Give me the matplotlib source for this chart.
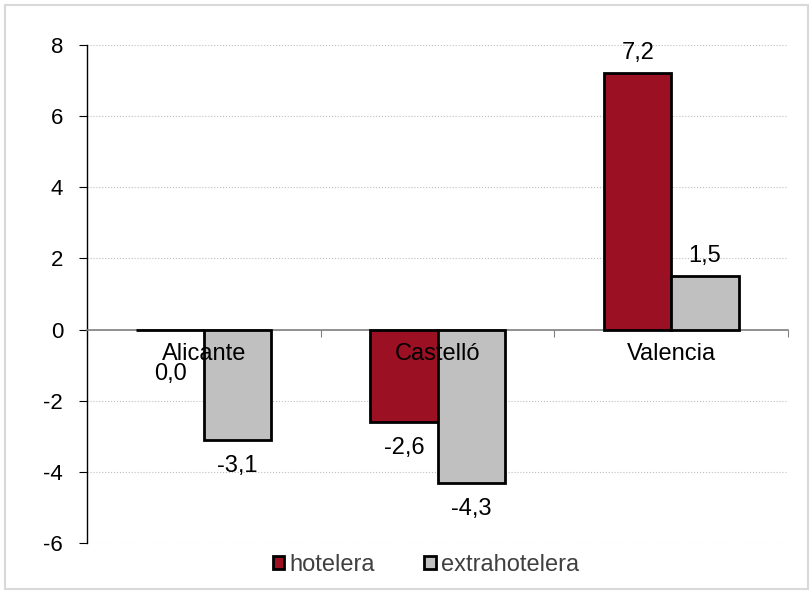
import matplotlib.pyplot as plt
import numpy as np
from matplotlib.patches import Rectangle

# datos
provincias = ['Alicante', 'Castelló', 'Valencia']
hotelera = [0.0, -2.6, 7.2]
extrahotelera = [-3.1, -4.3, 1.5]
series = ['hotelera', 'extrahotelera']
colores = ['#9B1023', '#C0C0C0']

plt.rcParams['font.family'] = ['Liberation Sans', 'DejaVu Sans']
fs = 17

fig = plt.figure(figsize=(8.11, 5.93), dpi=100)
fig.patches.append(Rectangle((0.006, 0.006), 0.99, 0.986, transform=fig.transFigure,
                             fill=False, edgecolor='#D9D9D9', linewidth=1.5))
ax = fig.add_axes([0.107, 0.0843, 0.865, 0.8398])

x = np.arange(len(provincias))
w = 0.288
b1 = ax.bar(x - w/2, hotelera, w, color=colores[0], edgecolor='black', linewidth=2,
            label=series[0], zorder=3)
b2 = ax.bar(x + w/2, extrahotelera, w, color=colores[1], edgecolor='black', linewidth=2,
            label=series[1], zorder=3)

ax.set_xlim(-0.5, 2.5)
ax.set_ylim(-6, 8)
ax.set_yticks(np.arange(-6, 9, 2))
ax.set_yticklabels([str(v) for v in range(-6, 9, 2)], fontsize=fs - 1)
ax.yaxis.grid(True, linestyle=':', color='#BFBFBF', linewidth=0.8)
ax.set_axisbelow(True)

for s in ['top', 'right']:
    ax.spines[s].set_visible(False)
ax.spines['left'].set_linewidth(1)
ax.spines['bottom'].set_position(('data', 0))
ax.spines['bottom'].set_color('#808080')
ax.spines['bottom'].set_linewidth(1.2)
ax.set_xticks([-0.5, 0.5, 1.5, 2.5])
ax.set_xticklabels([])
ax.tick_params(axis='x', direction='out', length=5, color='#808080')
ax.tick_params(axis='y', direction='out', length=6, pad=11)

# nombres de provincia justo bajo el eje
for i, p in enumerate(provincias):
    ax.annotate(p, (i, 0), xytext=(0, -10), textcoords='offset points',
                ha='center', va='top', fontsize=fs, zorder=4)

# etiquetas de valores
for bars, vals in [(b1, hotelera), (b2, extrahotelera)]:
    for r, v in zip(bars, vals):
        cx = r.get_x() + r.get_width()/2
        txt = ('%.1f' % v).replace('.', ',')
        if v > 0:
            ax.annotate(txt, (cx, v), xytext=(0, 7), textcoords='offset points',
                        ha='center', va='bottom', fontsize=fs)
        else:
            ax.annotate(txt, (cx, v), xytext=(0, -24 if v == 0 else -11), textcoords='offset points',
                        ha='center', va='top', fontsize=fs)

leg = fig.legend(loc='center', bbox_to_anchor=(0.525, 0.047), ncol=2, frameon=False,
                 fontsize=fs, handlelength=0.5, handleheight=0.5, handletextpad=0.2,
                 columnspacing=2.1)
for t in leg.get_texts():
    t.set_color('#404040')

fig.savefig('out.png', dpi=100)
